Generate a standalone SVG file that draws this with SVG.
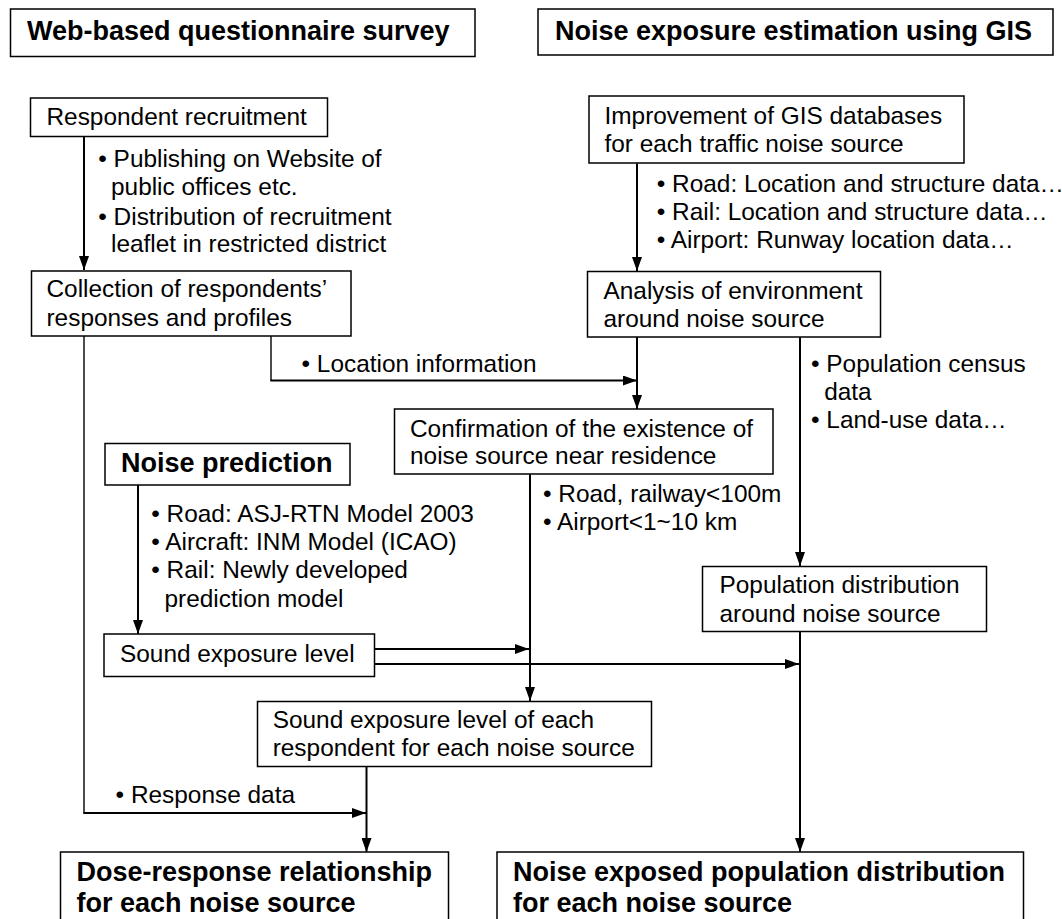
<svg xmlns="http://www.w3.org/2000/svg" width="1062" height="919" viewBox="0 0 1062 919">
<defs>
<marker id="ah" markerUnits="userSpaceOnUse" markerWidth="14" markerHeight="10" refX="14" refY="5" orient="auto">
<path d="M0,0 L14,5 L0,10 z" fill="#000"/>
</marker>
<style>
.box{fill:#fff;stroke:#000;stroke-width:1.5}
.t{font-family:"Liberation Sans",Arial,sans-serif;font-size:24.4px;fill:#000}
.b{font-family:"Liberation Sans",Arial,sans-serif;font-size:27px;font-weight:bold;fill:#000}
.c{fill:none;stroke:#000;stroke-width:2}
.ct{fill:none;stroke:#000;stroke-width:1.4}
</style>
</defs>
<rect width="1062" height="919" fill="#fff"/>
<g id="connectors">
<path class="c" d="M84,137 V270" marker-end="url(#ah)"/>
<path class="c" d="M637,163.5 V271" marker-end="url(#ah)"/>
<path class="ct" d="M271,336 V380.5"/>
<path class="c" d="M270.3,380.5 H637" marker-end="url(#ah)"/>
<path class="c" d="M637,337 V409" marker-end="url(#ah)"/>
<path class="c" d="M800,337 V566" marker-end="url(#ah)"/>
<path class="c" d="M530,474 V701" marker-end="url(#ah)"/>
<path class="c" d="M138,485 V634" marker-end="url(#ah)"/>
<path class="c" d="M374.5,649 H529" marker-end="url(#ah)"/>
<path class="c" d="M374.5,664 H799" marker-end="url(#ah)"/>
<path class="c" d="M800,632 V852" marker-end="url(#ah)"/>
<path class="ct" d="M84,336 V813"/>
<path class="c" d="M83.3,813 H366" marker-end="url(#ah)"/>
<path class="c" d="M366.5,767 V852" marker-end="url(#ah)"/>
</g>
<g id="labels">
<text class="t" x="98.3" y="166.7">• Publishing on Website of</text>
<text class="t" x="111" y="195">public offices etc.</text>
<text class="t" x="98.3" y="225">• Distribution of recruitment</text>
<text class="t" x="111" y="251.7">leaflet in restricted district</text>
<text class="t" x="656.8" y="191.7">• Road: Location and structure data…</text>
<text class="t" x="656.8" y="220">• Rail: Location and structure data…</text>
<text class="t" x="656.8" y="248.3">• Airport: Runway location data…</text>
<text class="t" x="301.5" y="371.7">• Location information</text>
<text class="t" x="811" y="371.7">• Population census</text>
<text class="t" x="824.2" y="400">data</text>
<text class="t" x="811" y="428.3">• Land-use data…</text>
<text class="t" x="151.3" y="521.7">• Road: ASJ-RTN Model 2003</text>
<text class="t" x="151.3" y="550">• Aircraft: INM Model (ICAO)</text>
<text class="t" x="151.3" y="578.3">• Rail: Newly developed</text>
<text class="t" x="164.5" y="606.7">prediction model</text>
<text class="t" x="543" y="501.7">• Road, railway&lt;100m</text>
<text class="t" x="543" y="530">• Airport&lt;1~10 km</text>
<text class="t" x="115.6" y="803.3">• Response data</text>
</g>
<g id="title-survey">
<rect class="box" x="10.5" y="9" width="464.5" height="47.5"/>
<text class="b" x="27" y="40">Web-based questionnaire survey</text>
</g>
<g id="title-gis">
<rect class="box" x="538" y="9" width="515" height="46"/>
<text class="b" x="555" y="39.5">Noise exposure estimation using GIS</text>
</g>
<g id="recruitment">
<rect class="box" x="30.5" y="98" width="297" height="38.5"/>
<text class="t" x="46.5" y="125">Respondent recruitment</text>
</g>
<g id="collection">
<rect class="box" x="31.5" y="271" width="319.5" height="65"/>
<text class="t" x="46.5" y="297">Collection of respondents’</text>
<text class="t" x="46.5" y="326">responses and profiles</text>
</g>
<g id="improvement">
<rect class="box" x="589" y="96" width="375" height="67"/>
<text class="t" x="604.5" y="124">Improvement of GIS databases</text>
<text class="t" x="604.5" y="151.7">for each traffic noise source</text>
</g>
<g id="analysis">
<rect class="box" x="587.5" y="271.5" width="293" height="65.5"/>
<text class="t" x="603.5" y="298.5">Analysis of environment</text>
<text class="t" x="603.5" y="326.5">around noise source</text>
</g>
<g id="noise-prediction">
<rect class="box" x="105" y="443.5" width="245" height="41.5"/>
<text class="b" x="121" y="471.5">Noise prediction</text>
</g>
<g id="confirmation">
<rect class="box" x="394.5" y="409" width="378.5" height="65"/>
<text class="t" x="410" y="436.7">Confirmation of the existence of</text>
<text class="t" x="410" y="464.3">noise source near residence</text>
</g>
<g id="population">
<rect class="box" x="702.5" y="566.5" width="284" height="65"/>
<text class="t" x="719.5" y="593.3">Population distribution</text>
<text class="t" x="719.5" y="621.7">around noise source</text>
</g>
<g id="sel">
<rect class="box" x="104" y="634" width="270.5" height="42.5"/>
<text class="t" x="120" y="661.7">Sound exposure level</text>
</g>
<g id="sel-each">
<rect class="box" x="257.5" y="701.5" width="394" height="65"/>
<text class="t" x="272.7" y="728.3">Sound exposure level of each</text>
<text class="t" x="272.7" y="756">respondent for each noise source</text>
</g>
<g id="dose-response">
<rect class="box" x="60.5" y="852" width="388" height="80"/>
<text class="b" x="76.5" y="880.7">Dose-response relationship</text>
<text class="b" x="76.5" y="911.7">for each noise source</text>
</g>
<g id="exposed-population">
<rect class="box" x="497" y="852" width="526.5" height="80"/>
<text class="b" x="513" y="880.7">Noise exposed population distribution</text>
<text class="b" x="513" y="911.7">for each noise source</text>
</g>
</svg>
